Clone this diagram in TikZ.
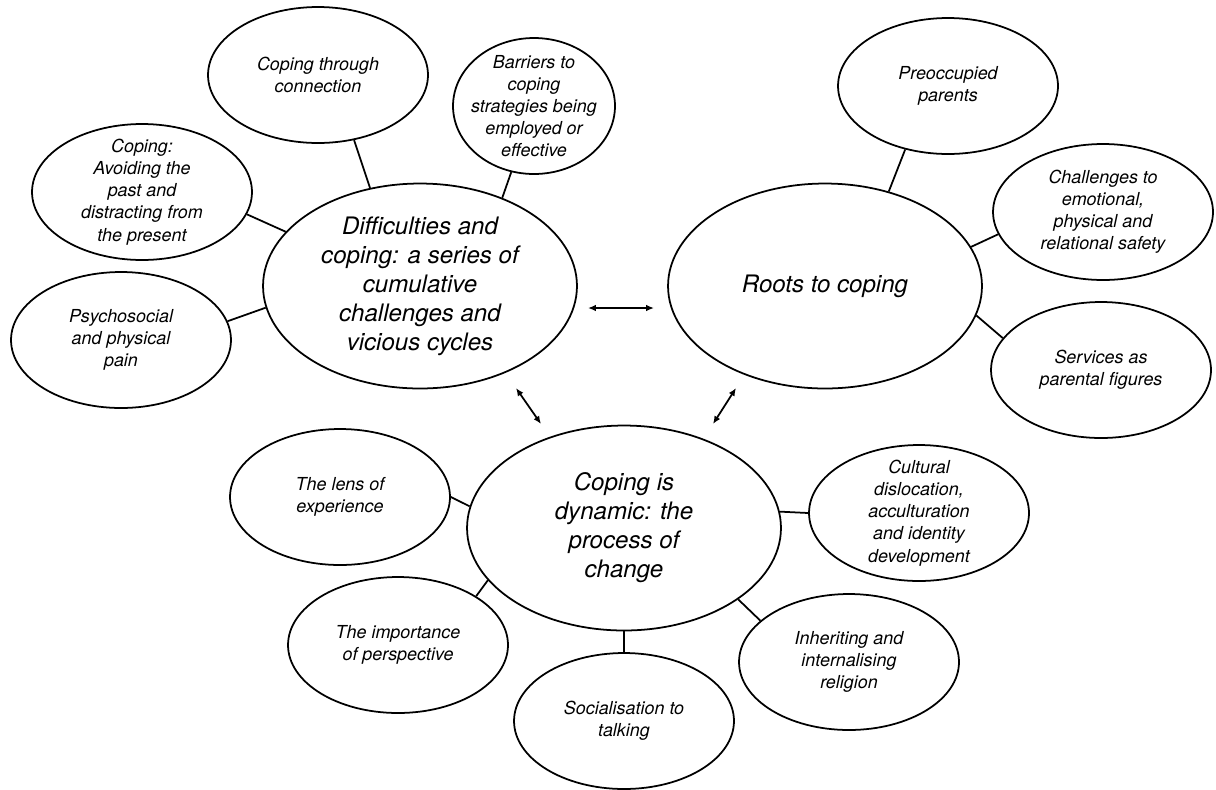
\documentclass[tikz,border=0pt]{standalone}
\usepackage{fontspec}
\setmainfont{TeX Gyre Heros}
\usetikzlibrary{shapes.geometric,arrows.meta}

\begin{document}
\begin{tikzpicture}[x=0.02cm,y=-0.02cm,
  theme/.style={draw, ellipse, line width=1pt, inner sep=0pt, align=center,
    font=\fontsize{13.7}{16.5}\selectfont\itshape,
    minimum width=6.28cm, minimum height=4.1cm},
  subtheme/.style={draw, ellipse, line width=1pt, inner sep=-6pt, align=center,
    font=\fontsize{10.2}{12.6}\selectfont\itshape,
    minimum width=4.4cm, minimum height=2.72cm},
  link/.style={line width=1pt},
  both/.style={line width=1pt, {Latex[length=4.5pt,width=3.8pt]}-{Latex[length=4.5pt,width=3.8pt]}}]

\useasboundingbox (0,0) rectangle (1216,789);

\node[theme] (diff) at (420,286) {Difficulties and\\coping: a series of\\cumulative\\challenges and\\vicious cycles};
\node[theme] (roots) at (825,286) {Roots to coping};
\node[theme] (dyn) at (624,528) {Coping is\\dynamic: the\\process of\\change};

\node[subtheme] (conn) at (318,75) {Coping through\\connection};
\node[subtheme, minimum width=3.24cm] (barr) at (534,106) {Barriers to\\coping\\strategies being\\employed or\\effective};
\node[subtheme] (avoid) at (142,192) {Coping:\\Avoiding the\\past and\\distracting from\\the present};
\node[subtheme] (pain) at (121,340) {Psychosocial\\and physical\\pain};

\node[subtheme] (preocc) at (948,86) {Preoccupied\\parents};
\node[subtheme] (safety) at (1103,212) {Challenges to\\emotional,\\physical and\\relational safety};
\node[subtheme] (services) at (1101,370) {Services as\\parental figures};

\node[subtheme] (lens) at (340,497) {The lens of\\experience};
\node[subtheme] (persp) at (398,645) {The importance\\of perspective};
\node[subtheme] (talk) at (624,721) {Socialisation to\\talking};
\node[subtheme] (relig) at (849,662) {Inheriting and\\internalising\\religion};
\node[subtheme] (culture) at (919,513) {Cultural\\dislocation,\\acculturation\\and identity\\development};

\draw[link] (conn.-61) -- (diff.117);
\draw[link] (barr.-109) -- (diff.47);
\draw[link] (avoid.-12) -- (diff.158);
\draw[link] (pain.10) -- (diff.188);

\draw[link] (preocc.-124) -- (roots.56);
\draw[link] (safety.192) -- (roots.15);
\draw[link] (services.162) -- (roots.-11);

\draw[link] (lens.0) -- (dyn.172);
\draw[link] (persp.32) -- (dyn.201);
\draw[link] (talk.north) -- (dyn.south);
\draw[link] (relig.155) -- (dyn.-32);
\draw[link] (culture.180) -- (dyn.6);

\coordinate (h1) at (588,308);
\coordinate (h2) at (654,308);
\coordinate (l1) at (516,388);
\coordinate (l2) at (541,424);
\coordinate (r1) at (736,388);
\coordinate (r2) at (713,424);
\draw[both] (h1) -- (h2);
\draw[both] (l1) -- (l2);
\draw[both] (r1) -- (r2);

\end{tikzpicture}
\end{document}
